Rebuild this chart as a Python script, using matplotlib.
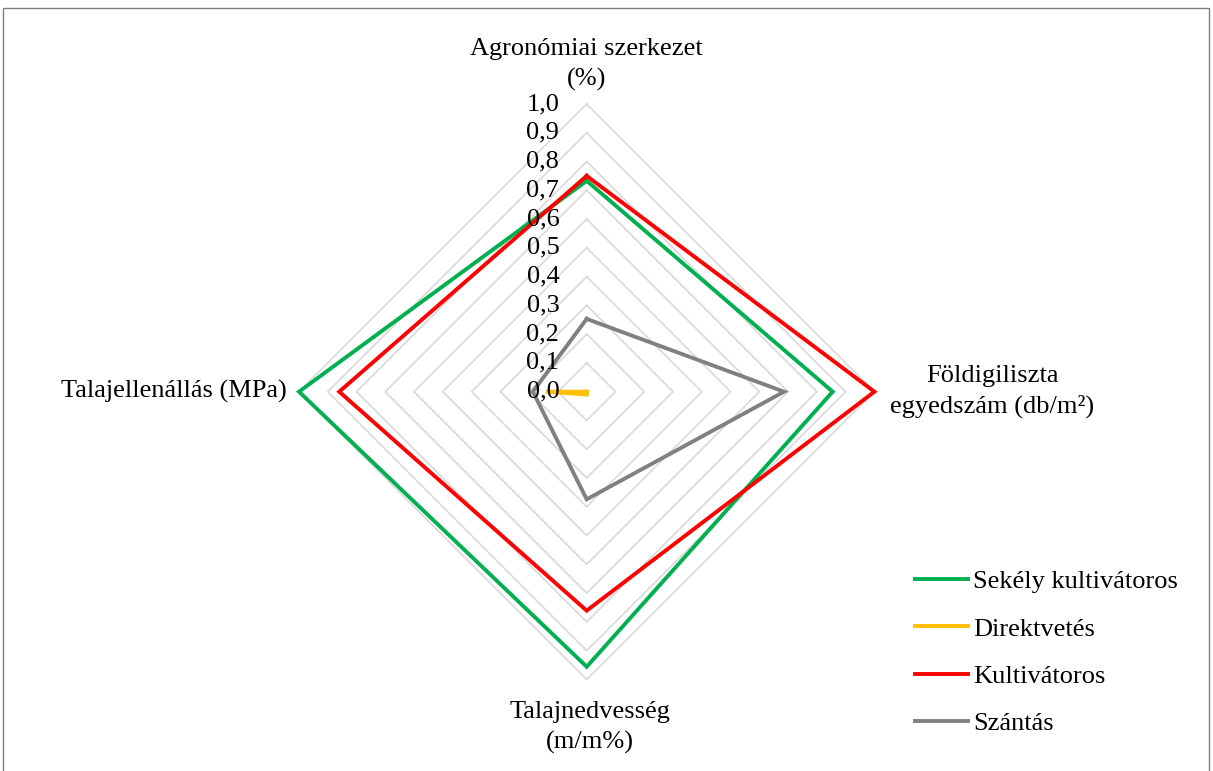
import numpy as np
import matplotlib
matplotlib.use("Agg")
import matplotlib.pyplot as plt
from matplotlib.patches import Rectangle

plt.rcParams["font.family"] = ["Liberation Serif", "DejaVu Serif"]

# ── Data ──────────────────────────────────────────────────────────────────────
axis_labels = ["Agronómiai szerkezet\n(%)",
               "Földigiliszta\negyedszám (db/m²)",
               "Talajnedvesség\n(m/m%)",
               "Talajellenállás (MPa)"]
series_names = ["Sekély kultivátoros", "Direktvetés", "Kultivátoros", "Szántás"]
sekely   = [0.733, 0.855, 0.956, 1.000]
direkt   = [0.000, 0.000, 0.010, 0.140]
kultiv   = [0.750, 1.000, 0.761, 0.860]
szantas  = [0.253, 0.686, 0.374, 0.187]
ticks = np.round(np.arange(0, 1.01, 0.1), 1)
tick_labels = [f"{t:.1f}".replace(".", ",") for t in ticks]

COLORS = ["#00B050", "#FFC000", "#FF0000", "#808080"]
GRID = "#D9D9D9"
FS = 19

W, H = 1213, 771
CX, CY, R = 586.7, 391.7, 287.7   # centre / radius in pixels

fig = plt.figure(figsize=(W / 100, H / 100), dpi=100)
fig.patches.append(Rectangle((3 / W, -0.01), (1209 - 3) / W, 1 - 8 / H + 0.01,
                             transform=fig.transFigure, fill=False,
                             edgecolor="#808080", linewidth=1.0))

ax = fig.add_axes([(CX - R) / W, (H - CY - R) / H, 2 * R / W, 2 * R / H])
ax.set_xlim(-1, 1)
ax.set_ylim(-1, 1)
ax.axis("off")

# angles clockwise from top
ang = np.pi / 2 - np.arange(len(axis_labels)) * 2 * np.pi / len(axis_labels)

def xy(vals):
    v = np.asarray(vals + vals[:1], dtype=float)
    a = np.append(ang, ang[0])
    return v * np.cos(a), v * np.sin(a)

# grid diamonds
for t in ticks[1:]:
    gx, gy = xy([t] * len(axis_labels))
    ax.plot(gx, gy, color=GRID, lw=1.2, zorder=1, clip_on=False)

# tick labels
for t, lab in zip(ticks, tick_labels):
    ax.text(-0.095, t, lab, ha="right", va="center", fontsize=FS, zorder=3)

# series
for vals, name, col in zip([sekely, direkt, kultiv, szantas], series_names, COLORS):
    sx, sy = xy(vals)
    ax.plot(sx, sy, color=col, lw=2.8, label=name, zorder=2,
            solid_joinstyle="miter", clip_on=False)

# axis labels
ax.text(0, 1.045, axis_labels[0], ha="center", va="bottom", fontsize=FS,
        linespacing=1.45)
ax.text(1.409, 0.0, axis_labels[1], ha="center", va="center", fontsize=FS,
        linespacing=1.45)
ax.text(0.01, -1.075, axis_labels[2], ha="center", va="top", fontsize=FS,
        linespacing=1.45)
ax.text(-1.042, 0.0, axis_labels[3], ha="right", va="center", fontsize=FS)

fig.legend(loc="upper left", bbox_to_anchor=(915 / W, 1 - 570 / H),
           frameon=False, fontsize=FS, handlelength=2.0, handletextpad=0.2,
           labelspacing=0.9, borderpad=0, borderaxespad=0)

fig.savefig("out.png", dpi=100, facecolor="white")
